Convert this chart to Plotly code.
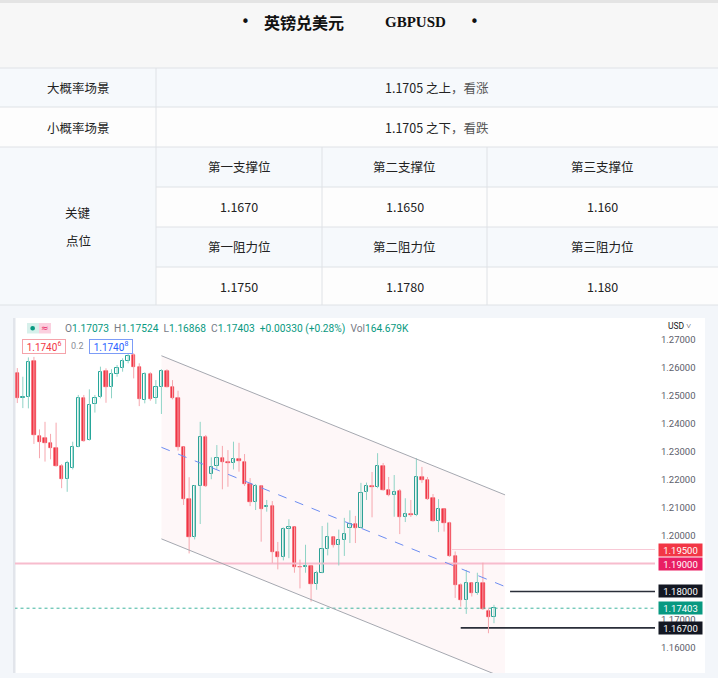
import plotly.graph_objects as go

W, H = 718, 678

# ---------------- data ----------------
opens = [1.2580, 1.2490, 1.2494, 1.2624, 1.2356, 1.2349, 1.2331, 1.2311, 1.2248, 1.2201,
         1.2240, 1.2317, 1.2490, 1.2341, 1.2469, 1.2494, 1.2589, 1.2529, 1.2576, 1.2597,
         1.2624, 1.2645, 1.2601, 1.2484, 1.2576, 1.2490, 1.2529, 1.2589, 1.2531, 1.2490,
         1.2315, 1.2130, 1.1996, 1.2177, 1.2353, 1.2220, 1.2248, 1.2276, 1.2262, 1.2260,
         1.2274, 1.2264, 1.2183, 1.2119, 1.2177, 1.2102, 1.2104, 1.1942, 1.1923, 1.2022,
         1.2029, 1.1889, 1.1886, 1.1890, 1.1825, 1.1867, 1.1951, 1.1993, 1.1966, 1.1984,
         1.2026, 1.2040, 1.2028, 1.2154, 1.2177, 1.2172, 1.2248, 1.2164, 1.2145, 1.2159,
         1.2067, 1.2077, 1.2073, 1.2210, 1.2198, 1.2133, 1.2053, 1.2094, 1.2046, 1.1926,
         1.1823, 1.1768, 1.1829, 1.1795, 1.1829, 1.1730, 1.17073]
highs = [1.2598, 1.2567, 1.2636, 1.2638, 1.2379, 1.2406, 1.2363, 1.2403, 1.2255, 1.2267,
         1.2335, 1.2502, 1.2502, 1.2522, 1.2502, 1.2603, 1.2597, 1.2594, 1.2609, 1.2633,
         1.2656, 1.2651, 1.2615, 1.2583, 1.2583, 1.2555, 1.2594, 1.2594, 1.2555, 1.2517,
         1.2317, 1.2208, 1.2180, 1.2406, 1.2359, 1.2279, 1.2323, 1.2320, 1.2305, 1.2335,
         1.2331, 1.2291, 1.2205, 1.2184, 1.2180, 1.2127, 1.2123, 1.1977, 1.2029, 1.2058,
         1.2030, 1.1914, 1.1967, 1.1893, 1.1874, 1.2034, 1.2046, 1.1997, 1.2021, 1.2063,
         1.2090, 1.2070, 1.2188, 1.2189, 1.2227, 1.2294, 1.2259, 1.2209, 1.2216, 1.2166,
         1.2133, 1.2127, 1.2276, 1.2245, 1.2209, 1.2148, 1.2130, 1.2096, 1.2049, 1.1943,
         1.1829, 1.1877, 1.1832, 1.1867, 1.1903, 1.1739, 1.17524]
lows = [1.2473, 1.2455, 1.2454, 1.2327, 1.2276, 1.2264, 1.2272, 1.2246, 1.2169, 1.2156,
        1.2236, 1.2315, 1.2335, 1.2339, 1.2439, 1.2490, 1.2474, 1.2490, 1.2567, 1.2585,
        1.2615, 1.2561, 1.2462, 1.2472, 1.2481, 1.2470, 1.2434, 1.2529, 1.2486, 1.2303,
        1.2109, 1.1936, 1.1986, 1.2041, 1.2173, 1.2201, 1.2236, 1.2165, 1.2174, 1.2236,
        1.2228, 1.2177, 1.2105, 1.2091, 1.1978, 1.2085, 1.1902, 1.1879, 1.1911, 1.1919,
        1.1867, 1.1811, 1.1867, 1.1764, 1.1806, 1.1865, 1.1929, 1.1957, 1.1893, 1.1927,
        1.1973, 1.1973, 1.2026, 1.2127, 1.2065, 1.2169, 1.2160, 1.2140, 1.2067, 1.2005,
        1.2048, 1.2066, 1.2069, 1.2188, 1.2127, 1.2049, 1.2012, 1.2014, 1.1924, 1.1777,
        1.1746, 1.1720, 1.1782, 1.1788, 1.1734, 1.1651, 1.16868]
closes = [1.2491, 1.2494, 1.2621, 1.2359, 1.2333, 1.2331, 1.2311, 1.2248, 1.2201, 1.2260,
          1.2317, 1.2490, 1.2339, 1.2466, 1.2490, 1.2585, 1.2529, 1.2576, 1.2597, 1.2624,
          1.2641, 1.2601, 1.2486, 1.2576, 1.2486, 1.2529, 1.2589, 1.2531, 1.2490, 1.2315,
          1.2130, 1.1996, 1.2177, 1.2351, 1.2177, 1.2246, 1.2276, 1.2264, 1.2259, 1.2273,
          1.2267, 1.2183, 1.2118, 1.2176, 1.2094, 1.2105, 1.1942, 1.1923, 1.2022, 1.2029,
          1.1889, 1.1886, 1.1890, 1.1825, 1.1867, 1.1951, 1.1993, 1.1967, 1.1984, 1.2004,
          1.2040, 1.2028, 1.2153, 1.2176, 1.2172, 1.2248, 1.2163, 1.2145, 1.2156, 1.2067,
          1.2076, 1.2073, 1.2210, 1.2198, 1.2129, 1.2053, 1.2094, 1.2046, 1.1926, 1.1823,
          1.1768, 1.1829, 1.1795, 1.1829, 1.1736, 1.1710, 1.17403]
volume_text = "164.679K"

# y axis ticks (1.19 / 1.18 sit under the price boxes, so their labels are hidden)
ytick_vals = [1.27, 1.26, 1.25, 1.24, 1.23, 1.22, 1.21, 1.20, 1.19, 1.18, 1.17, 1.16]
ytick_hidden = [1.19, 1.18]

# horizontal price levels
level_values = [1.195, 1.19, 1.18, 1.17403, 1.167]
level_labels = ["1.19500", "1.19000", "1.18000", "1.17403", "1.16700"]
level_box_colors = ["#f23645", "#e91e63", "#131722", "#089981", "#131722"]
level_line_colors = ["#f8c9d6", "#f7bccd", "#2a2e39", "#3fb59f", "#2a2e39"]
level_line_widths = [1, 2, 1.6, 1, 1.6]
level_line_dash = ["solid", "solid", "solid", "dot", "solid"]
level_starts = [78.4, -0.5, 88.9, -0.5, 80.0]

# parallel channel (bar index, price)
channel_x = [26, 88]
channel_upper = [1.2642, 1.2145]
channel_lower = [1.1988, 1.1490]

# marker boxes in the header
tag_left = "1.1740<sup>6</sup>"
tag_mid = "0.2"
tag_right = "1.1740<sup>8</sup>"

# table texts
title_cn = "英镑兑美元"
title_en = "GBPUSD"
scenario_names = ["大概率场景", "小概率场景"]
scenario_prices = ["1.1705", "1.1705"]
scenario_tails = ["之上，看涨", "之下，看跌"]
key_label = ["关键", "点位"]
support_names = ["第一支撑位", "第二支撑位", "第三支撑位"]
support_values = ["1.1670", "1.1650", "1.160"]
resist_names = ["第一阻力位", "第二阻力位", "第三阻力位"]
resist_values = ["1.1750", "1.1780", "1.180"]

# ---------------- styling ----------------
GREEN = "#26a69a"
GREEN_WICK = "#8fd3c6"
RED = "#f23645"
RED_WICK = "#f6a7ae"
CJK = "Noto Sans CJK SC"
UI = "Roboto"

XMIN, XMAX = -0.415, 115.05
YMIN, YMAX = 1.15089, 1.27768


def px(x):
    return x / W


def py(y):
    return 1 - y / H


idx = list(range(len(opens)))
up = [i for i in idx if closes[i] >= opens[i]]
dn = [i for i in idx if closes[i] < opens[i]]


def wick_xy(ids):
    xs, ys = [], []
    for i in ids:
        xs += [i, i, None]
        ys += [lows[i], highs[i], None]
    return xs, ys


fig = go.Figure()

# channel fill
fig.add_trace(go.Scatter(
    x=[channel_x[0], channel_x[1], channel_x[1], channel_x[0], channel_x[0]],
    y=[channel_upper[0], channel_upper[1], channel_lower[1], channel_lower[0], channel_upper[0]],
    mode="lines", fill="toself", fillcolor="rgba(242,54,69,0.04)",
    line=dict(width=0), hoverinfo="skip"))

# level lines (below candles)
for v, s, c, w, d in zip(level_values, level_starts, level_line_colors, level_line_widths, level_line_dash):
    fig.add_trace(go.Scatter(x=[s, XMAX], y=[v, v], mode="lines",
                             line=dict(color=c, width=w, dash=d), hoverinfo="skip"))

# wicks
for ids, col in ((up, GREEN_WICK), (dn, RED_WICK)):
    xs, ys = wick_xy(ids)
    fig.add_trace(go.Scatter(x=xs, y=ys, mode="lines", line=dict(color=col, width=1),
                             hoverinfo="skip"))

# bodies
fig.add_trace(go.Bar(x=up, base=[opens[i] for i in up],
                     y=[closes[i] - opens[i] for i in up], width=0.6,
                     marker=dict(color="white", line=dict(color=GREEN, width=1))))
fig.add_trace(go.Bar(x=dn, base=[closes[i] for i in dn],
                     y=[opens[i] - closes[i] for i in dn], width=0.6,
                     marker=dict(color=RED, line=dict(color=RED, width=0.6))))

# channel borders + median
for ys in (channel_upper, channel_lower):
    fig.add_trace(go.Scatter(x=channel_x, y=ys, mode="lines",
                             line=dict(color="#a5a8b0", width=1), hoverinfo="skip"))
fig.add_trace(go.Scatter(x=channel_x,
                         y=[(a + b) / 2 for a, b in zip(channel_upper, channel_lower)],
                         mode="lines", line=dict(color="#6d8df2", width=1, dash="dash"),
                         hoverinfo="skip"))

shapes = []
annotations = []


def rect(x0, y0, x1, y1, fill, line=None, lw=0, layer="below"):
    shapes.append(dict(type="rect", xref="paper", yref="paper",
                       x0=px(x0), x1=px(x1), y0=py(y1), y1=py(y0),
                       fillcolor=fill, line=dict(color=line or fill, width=lw), layer=layer))


def hline(x0, x1, y, color="#dfe2e6", w=1):
    shapes.append(dict(type="line", xref="paper", yref="paper", x0=px(x0), x1=px(x1),
                       y0=py(y), y1=py(y), line=dict(color=color, width=w), layer="below"))


def vline(x, y0, y1, color="#dfe2e6", w=1):
    shapes.append(dict(type="line", xref="paper", yref="paper", x0=px(x), x1=px(x),
                       y0=py(y0), y1=py(y1), line=dict(color=color, width=w), layer="below"))


def text(x, y, s, size=12.5, color="#222222", family=CJK, anchor="center", **kw):
    annotations.append(dict(xref="paper", yref="paper", x=px(x), y=py(y), text=s,
                            showarrow=False, xanchor=anchor, yanchor="middle",
                            font=dict(size=size, color=color, family=family), **kw))


# ---------- table backgrounds ----------
LB = "#f6f9fc"
WH = "#fdfdfd"
rect(0, 0, W, 3, "#e4e4e4")
rect(0, 3, W, 68, "#f7f7f7")
rect(0, 68, W, 107, LB)
rect(0, 107, W, 147, WH)
rect(0, 147, 156, 305, LB)
rect(156, 147, W, 187, LB)
rect(156, 187, W, 227, WH)
rect(156, 227, W, 267, LB)
rect(156, 267, W, 305, WH)
# chart region
rect(0, 305, W, H, "#f3f6fa")
rect(13, 318, 705, 673, "#ffffff")
rect(13, 318, 15.5, 673, "#e2e5eb")

for y in (68, 107, 147, 305):
    hline(0, W, y)
for y in (187, 227, 267):
    hline(156, W, y)
vline(156, 68, 305)
vline(322, 147, 305)
vline(487, 147, 305)

# ---------- table texts ----------
text(245, 22, "•", size=15, color="#111111", family="DejaVu Sans")
text(304, 22, "<b>" + title_cn + "</b>", size=16, color="#111111")
text(415, 22, "<b>" + title_en + "</b>", size=15, color="#111111", family="Liberation Serif")
text(474, 22, "•", size=15, color="#111111", family="DejaVu Sans")

for k, yy in enumerate((87.5, 127)):
    text(78, yy, scenario_names[k])
    text(437, yy, scenario_prices[k] + " " + scenario_tails[k][:2]
         + "<span style='color:#555555'>" + scenario_tails[k][2:] + "</span>")

text(78, 213, key_label[0])
text(78, 240, key_label[1])
col_centers = [239, 404.5, 602.5]
for j, cx in enumerate(col_centers):
    text(cx, 167, support_names[j])
    text(cx, 207, support_values[j])
    text(cx, 247, resist_names[j])
    text(cx, 286, resist_values[j])

# ---------- chart header ----------
rect(27, 323, 39, 333.5, "#d7f0eb", layer="above")
rect(39, 323, 51, 333.5, "#fbd0df", layer="above")
shapes.append(dict(type="circle", xref="paper", yref="paper",
                   x0=px(30.3), x1=px(35), y0=py(330.6), y1=py(325.9),
                   fillcolor="#089981", line=dict(width=0), layer="above"))
text(45, 328, "≈", size=9, color="#e91e63", family="DejaVu Sans")

o, h, l, c = opens[-1], highs[-1], lows[-1], closes[-1]
chg = c - o
pct = chg / o * 100
T = "#089981"
sp = lambda s: "<span style='color:%s'>%s</span>" % (T, s)
legend = ("O" + sp("%.5f" % o) + "  H" + sp("%.5f" % h) + "  L" + sp("%.5f" % l)
          + "  C" + sp("%.5f" % c) + "  " + sp("%+.5f (%+.2f%%)" % (chg, pct))
          + "  Vol" + sp(volume_text))
text(62.5, 328.5, legend, size=10.2, color="#787b86", family=UI, anchor="left")

annotations.append(dict(xref="paper", yref="paper", x=px(43.8), y=py(346.3), text=tag_left,
                        showarrow=False, xanchor="center", yanchor="middle",
                        font=dict(size=10, color="#f23645", family=UI),
                        bgcolor="white", bordercolor="#f5a3aa", borderwidth=1, borderpad=1,
                        width=40, height=11))
text(77.5, 346.3, tag_mid, size=9, color="#8a8d96", family=UI)
annotations.append(dict(xref="paper", yref="paper", x=px(110.8), y=py(346.3), text=tag_right,
                        showarrow=False, xanchor="center", yanchor="middle",
                        font=dict(size=10, color="#2962ff", family=UI),
                        bgcolor="white", bordercolor="#7c9cf7", borderwidth=1, borderpad=1,
                        width=40, height=11))

text(666, 325.5, "USD ˅", size=8.5, color="#131722", family=UI, anchor="left")

# price boxes on the axis
for v, lab, col in zip(level_values, level_labels, level_box_colors):
    annotations.append(dict(xref="paper", yref="y", x=px(657.5), y=v, text=lab,
                            showarrow=False, xanchor="left", yanchor="middle",
                            font=dict(size=9.5, color="white", family=UI),
                            bgcolor=col, borderpad=1, width=41, height=10))

fig.update_layout(
    width=W, height=H, margin=dict(l=0, r=0, t=0, b=0),
    paper_bgcolor="white", plot_bgcolor="rgba(0,0,0,0)",
    showlegend=False, barmode="overlay", bargap=0,
    shapes=shapes, annotations=annotations,
    xaxis=dict(domain=[px(15), px(655)], range=[XMIN, XMAX], visible=False, fixedrange=True),
    yaxis=dict(domain=[py(673), py(318)], range=[YMIN, YMAX], side="right",
               tickvals=ytick_vals,
               ticktext=["" if v in ytick_hidden else "%.5f" % v for v in ytick_vals],
               tickfont=dict(size=9.5, color="#5d606b", family=UI),
               showgrid=False, zeroline=False, showline=False, ticks="",
               ticklabelstandoff=5, fixedrange=True),
)

fig.write_html("out.html", config={"displayModeBar": False},
               post_script="document.body.style.margin='0';document.body.style.overflow='hidden';")
